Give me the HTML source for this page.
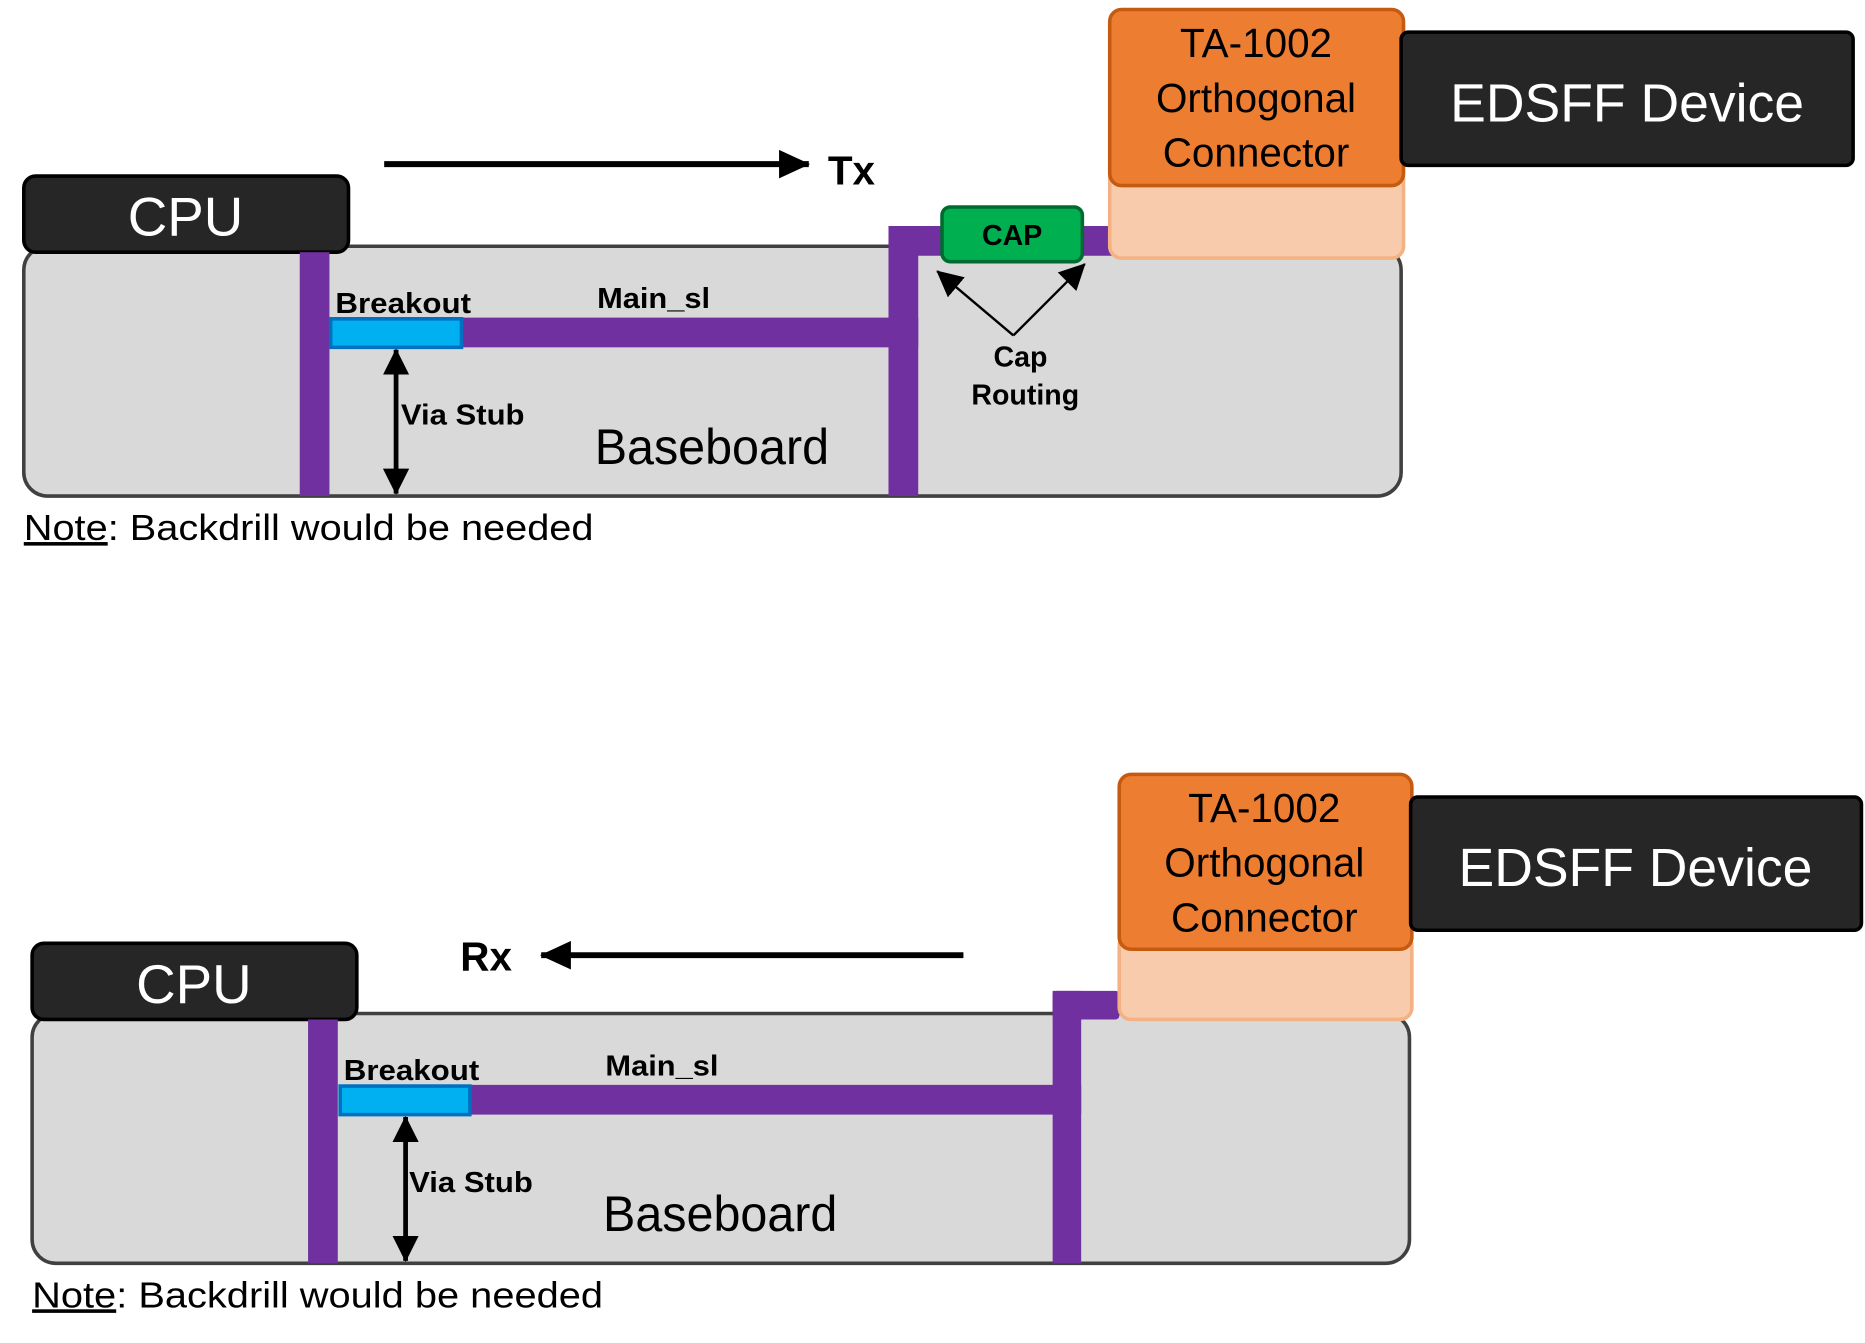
<!DOCTYPE html>
<html><head><style>html,body{margin:0;padding:0;background:#fff}svg{display:block}</style></head>
<body>
<svg width="1865" height="1343" viewBox="0 0 1568 1129" preserveAspectRatio="none" xmlns="http://www.w3.org/2000/svg" font-family="Liberation Sans, sans-serif">
<defs>
<marker id="ahb" markerWidth="26" markerHeight="24" refX="25" refY="12" orient="auto" markerUnits="userSpaceOnUse"><path d="M0,0 L26,12 L0,24 z" fill="#000"/></marker>
<marker id="ahs" markerWidth="22" markerHeight="22" refX="21" refY="11" orient="auto-start-reverse" markerUnits="userSpaceOnUse"><path d="M0,0 L22,11 L0,22 z" fill="#000"/></marker>
</defs>

<g id="top">
<rect x="20" y="207" width="1158" height="210" rx="20" fill="#d9d9d9" stroke="#404040" stroke-width="3"/>
<rect x="20" y="148" width="273" height="64" rx="10" fill="#262626" stroke="#000" stroke-width="3"/>
<text x="156" y="198" font-size="46" fill="#fff" text-anchor="middle">CPU</text>
<rect x="252" y="212" width="25" height="205" fill="#7030a0"/>
<rect x="388" y="267" width="384" height="25" fill="#7030a0"/>
<rect x="278" y="268" width="110" height="24" fill="#00b0f0" stroke="#0070c0" stroke-width="3"/>
<rect x="747" y="190" width="25" height="227" fill="#7030a0"/>
<rect x="747" y="190" width="193" height="25" fill="#7030a0"/>
<rect x="933" y="140" width="247" height="77" rx="10" fill="#f8cbad" stroke="#f4b183" stroke-width="3"/>
<rect x="933" y="8" width="247" height="148" rx="10" fill="#ed7d31" stroke="#c55a11" stroke-width="3"/>
<text x="1056" y="48" font-size="34" text-anchor="middle" fill="#000">TA-1002</text>
<text x="1056" y="94" font-size="34" text-anchor="middle" fill="#000">Orthogonal</text>
<text x="1056" y="140" font-size="34" text-anchor="middle" fill="#000">Connector</text>
<rect x="1178" y="27" width="380" height="112" rx="6" fill="#262626" stroke="#000" stroke-width="3"/>
<text x="1368" y="102" font-size="45" fill="#fff" text-anchor="middle">EDSFF Device</text>
<rect x="792" y="174" width="118" height="46" rx="7" fill="#00b050" stroke="#006b30" stroke-width="3"/>
<text x="851" y="206" font-size="24" font-weight="bold" text-anchor="middle">CAP</text>
<line x1="323" y1="138" x2="680" y2="138" stroke="#000" stroke-width="5" marker-end="url(#ahb)"/>
<text x="696" y="155" font-size="34" font-weight="bold">Tx</text>
<line x1="852" y1="282" x2="788" y2="228" stroke="#000" stroke-width="2" marker-end="url(#ahs)"/>
<line x1="852" y1="282" x2="912" y2="222" stroke="#000" stroke-width="2" marker-end="url(#ahs)"/>
<text x="858" y="308" font-size="24" font-weight="bold" text-anchor="middle">Cap</text>
<text x="862" y="340" font-size="24" font-weight="bold" text-anchor="middle">Routing</text>
<line x1="333" y1="294" x2="333" y2="415" stroke="#000" stroke-width="4" marker-start="url(#ahs)" marker-end="url(#ahs)"/>
<text x="282" y="263" font-size="24" font-weight="bold" textLength="114" lengthAdjust="spacingAndGlyphs">Breakout</text>
<text x="502" y="259" font-size="24" font-weight="bold" textLength="95" lengthAdjust="spacingAndGlyphs">Main_sl</text>
<text x="337" y="357" font-size="24" font-weight="bold" textLength="104" lengthAdjust="spacingAndGlyphs">Via Stub</text>
<text x="500" y="390" font-size="42" textLength="197" lengthAdjust="spacingAndGlyphs">Baseboard</text>
<text x="20" y="454" font-size="30" textLength="479" lengthAdjust="spacingAndGlyphs"><tspan text-decoration="underline">Note</tspan>: Backdrill would be needed</text>
</g>

<g id="bot">
<rect x="27" y="852" width="1158" height="210" rx="20" fill="#d9d9d9" stroke="#404040" stroke-width="3"/>
<rect x="27" y="793" width="273" height="64" rx="10" fill="#262626" stroke="#000" stroke-width="3"/>
<text x="163" y="843" font-size="46" fill="#fff" text-anchor="middle">CPU</text>
<rect x="259" y="857" width="25" height="205" fill="#7030a0"/>
<rect x="395" y="912" width="514" height="25" fill="#7030a0"/>
<rect x="286" y="913" width="109" height="24" fill="#00b0f0" stroke="#0070c0" stroke-width="3"/>
<rect x="885" y="833" width="24" height="229" fill="#7030a0"/>
<rect x="885" y="833" width="56" height="24" rx="3" fill="#7030a0"/>
<rect x="941" y="785" width="246" height="72" rx="10" fill="#f8cbad" stroke="#f4b183" stroke-width="3"/>
<rect x="941" y="651" width="246" height="147" rx="10" fill="#ed7d31" stroke="#c55a11" stroke-width="3"/>
<text x="1063" y="691" font-size="34" text-anchor="middle" fill="#000">TA-1002</text>
<text x="1063" y="737" font-size="34" text-anchor="middle" fill="#000">Orthogonal</text>
<text x="1063" y="783" font-size="34" text-anchor="middle" fill="#000">Connector</text>
<rect x="1186" y="670" width="379" height="112" rx="6" fill="#262626" stroke="#000" stroke-width="3"/>
<text x="1375" y="745" font-size="45" fill="#fff" text-anchor="middle">EDSFF Device</text>
<line x1="810" y1="803" x2="455" y2="803" stroke="#000" stroke-width="5" marker-end="url(#ahb)"/>
<text x="387" y="816" font-size="34" font-weight="bold">Rx</text>
<line x1="341" y1="939" x2="341" y2="1060" stroke="#000" stroke-width="4" marker-start="url(#ahs)" marker-end="url(#ahs)"/>
<text x="289" y="908" font-size="24" font-weight="bold" textLength="114" lengthAdjust="spacingAndGlyphs">Breakout</text>
<text x="509" y="904" font-size="24" font-weight="bold" textLength="95" lengthAdjust="spacingAndGlyphs">Main_sl</text>
<text x="344" y="1002" font-size="24" font-weight="bold" textLength="104" lengthAdjust="spacingAndGlyphs">Via Stub</text>
<text x="507" y="1035" font-size="42" textLength="197" lengthAdjust="spacingAndGlyphs">Baseboard</text>
<text x="27" y="1099" font-size="30" textLength="480" lengthAdjust="spacingAndGlyphs"><tspan text-decoration="underline">Note</tspan>: Backdrill would be needed</text>
</g>
</svg>
</body></html>
